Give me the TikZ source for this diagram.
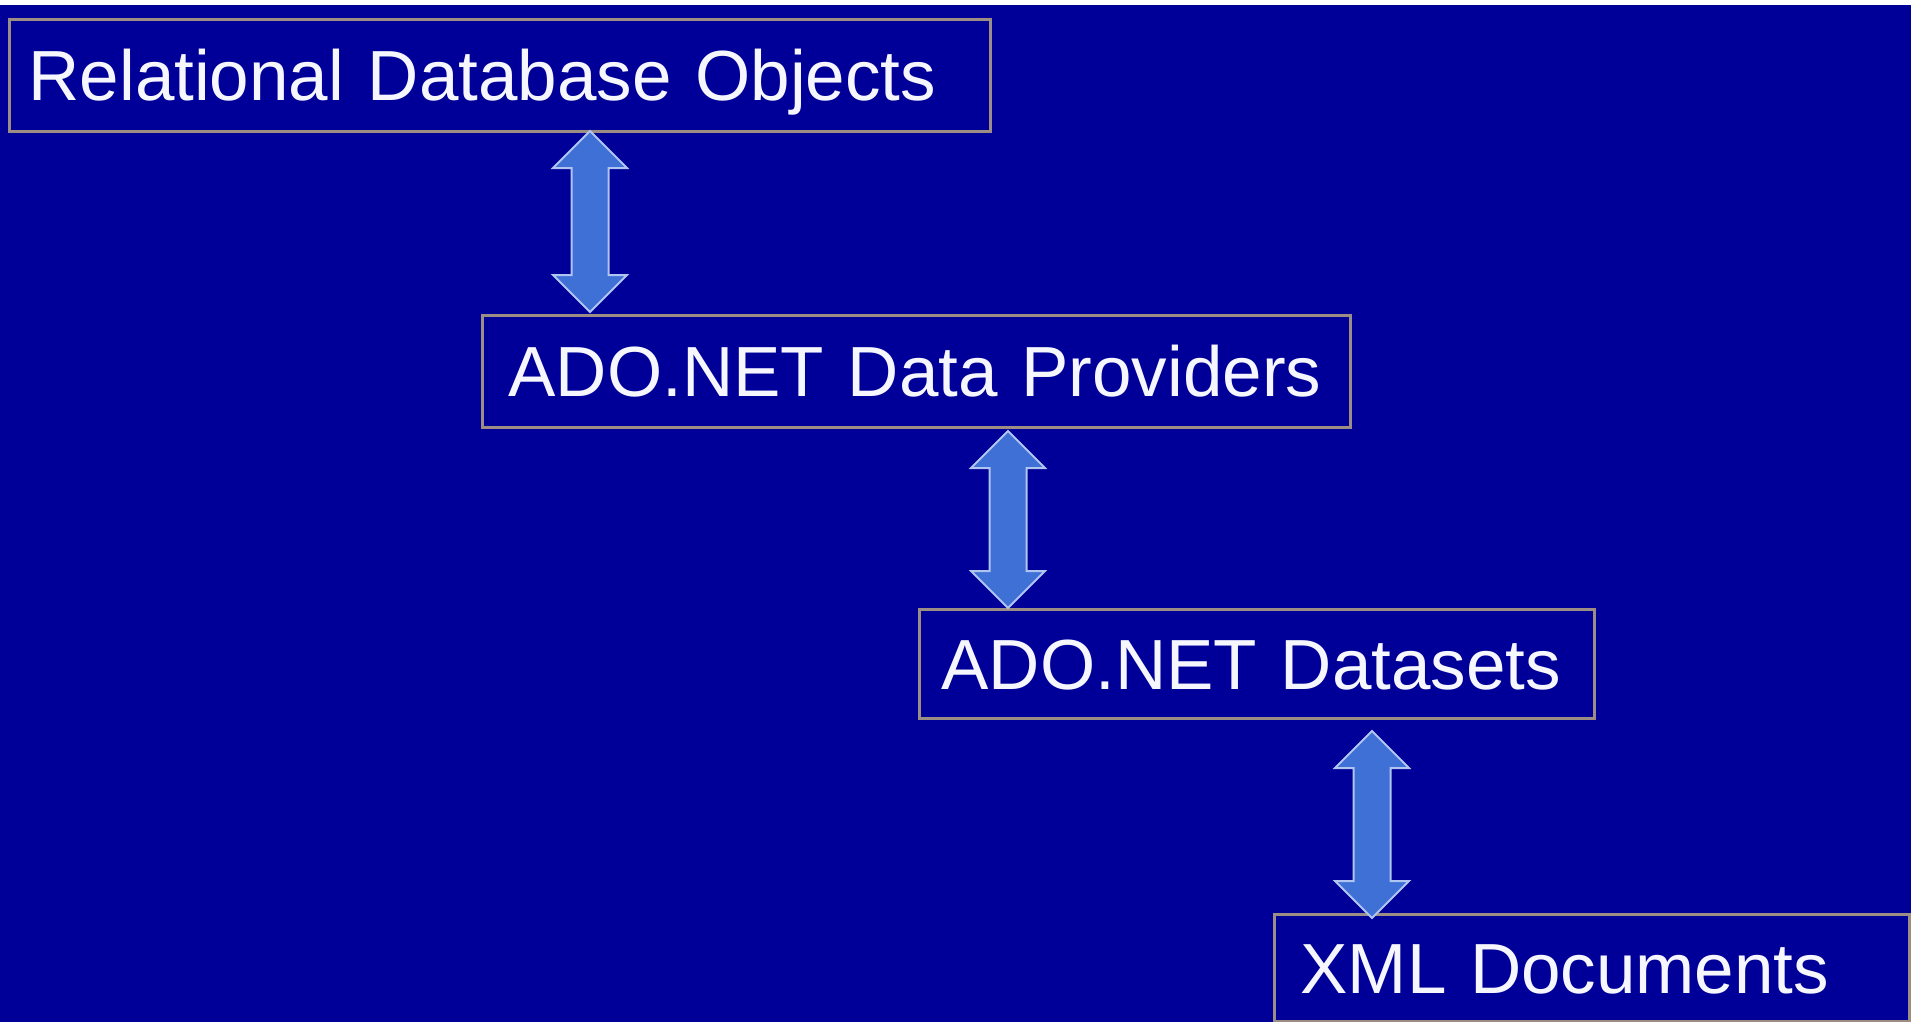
\documentclass[tikz,border=0pt]{standalone}
\usepackage{fontspec}
\setmainfont{Liberation Sans}
\usetikzlibrary{calc}
\definecolor{bgblue}{RGB}{0,0,153}
\definecolor{boxline}{RGB}{156,142,132}
\definecolor{arrowfill}{RGB}{62,112,214}
\definecolor{arrowline}{RGB}{176,196,240}
\definecolor{txt}{RGB}{246,246,255}
\tikzset{
  labelbox/.style={draw=boxline, line width=3pt, fill=bgblue, rectangle, anchor=north west,
    inner ysep=0pt, text height=60pt, text depth=10pt, align=left, text=txt,
    font=\fontsize{71}{80}\selectfont},
  barrow/.style={fill=arrowfill, draw=arrowline, line width=2pt, line join=miter}
}
\newcommand\blockarrow[2]{%
  \draw[barrow] let \p1=#1, \p2=#2 in
    (\x1,\y1) -- (\x1+37pt,\y1-37pt) -- (\x1+18.5pt,\y1-37pt) -- (\x1+18.5pt,\y2+37pt)
    -- (\x1+37pt,\y2+37pt) -- (\x1,\y2) -- (\x1-37pt,\y2+37pt) -- (\x1-18.5pt,\y2+37pt)
    -- (\x1-18.5pt,\y1-37pt) -- (\x1-37pt,\y1-37pt) -- cycle;}
\begin{document}
\begin{tikzpicture}[x=1pt,y=1pt]
\useasboundingbox (0,0) rectangle (1911,-1022);
\fill[white] (0,0) rectangle (1911,-1022);
\fill[bgblue] (0,-5) rectangle (1911,-1022);
\node[labelbox, inner xsep=19pt, text width=943pt, minimum height=112pt] (r1) at (8,-18) {Relational Database Objects};
\node[labelbox, inner xsep=26pt, text width=816pt, minimum height=112pt] (r2) at (481,-314) {ADO.NET Data Providers};
\node[labelbox, inner xsep=22pt, text width=631pt, minimum height=109pt] (r3) at (918,-608) {ADO.NET Datasets};
\node[labelbox, inner xsep=26pt, text width=583pt, minimum height=107pt] (r4) at (1273,-913) {XML Documents};
\coordinate (x1) at (590,0);
\coordinate (x2) at (1008,0);
\coordinate (x3) at (1372,0);
\blockarrow{($(x1 |- r1.south)+(0,2)$)}{($(x1 |- r2.north)+(0,2)$)}
\blockarrow{($(x2 |- r2.south)+(0,-2)$)}{(x2 |- r3.north)}
\blockarrow{($(x3 |- r3.south)+(0,-11)$)}{($(x3 |- r4.north)+(0,-5)$)}
\end{tikzpicture}
\end{document}
